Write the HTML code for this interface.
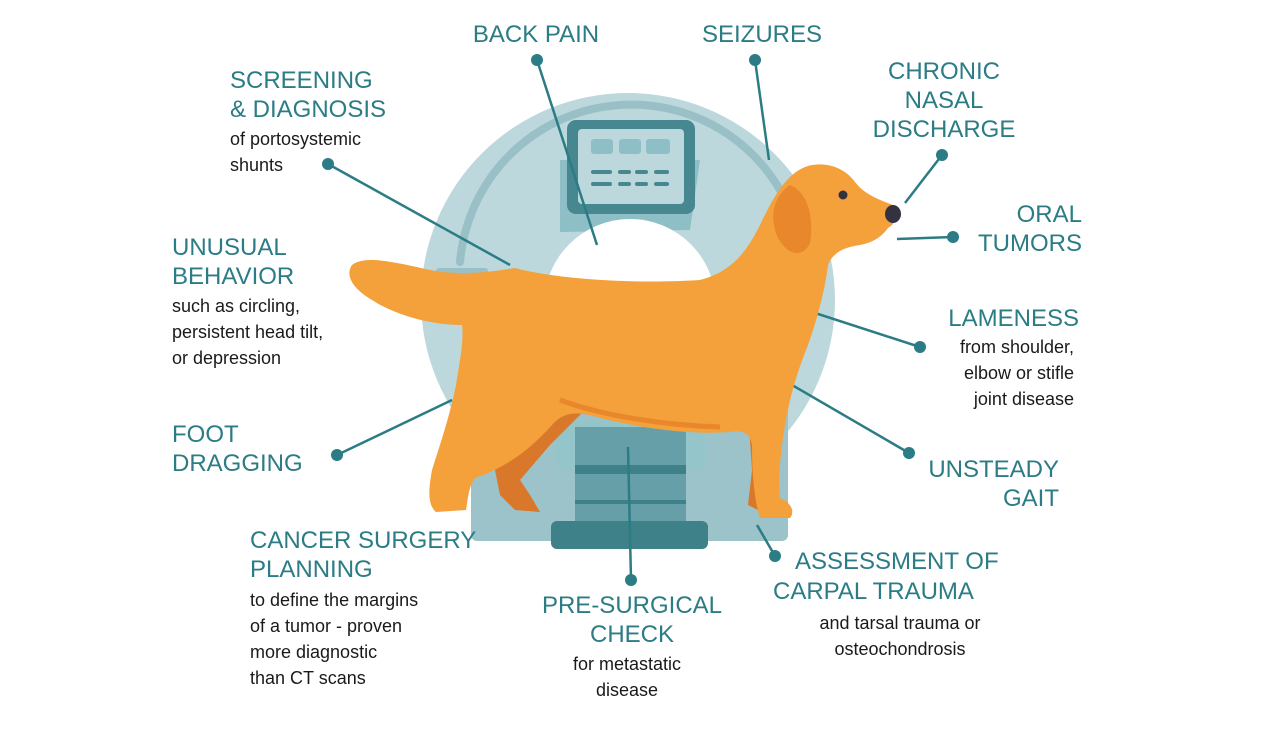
<!DOCTYPE html>
<html><head><meta charset="utf-8"><style>
body{margin:0;width:1271px;height:748px;background:#fff;position:relative;overflow:hidden;font-family:"Liberation Sans",sans-serif}
.h{position:absolute;color:#2b7c85;font-size:24px;line-height:29px;white-space:nowrap}
.b{position:absolute;color:#1a1a1a;font-size:18px;line-height:26px;white-space:nowrap}
.c{text-align:center}.r{text-align:right}
svg{position:absolute;left:0;top:0}
</style></head><body>
<svg width="1271" height="748" viewBox="0 0 1271 748">
<circle cx="628" cy="300" r="207" fill="#bcd8dc"/>
<path d="M460 262 A172 172 0 0 1 780 190" fill="none" stroke="#98c0c6" stroke-width="8" stroke-linecap="round"/>
<rect x="436" y="268" width="52" height="14" rx="3" fill="#98c0c6"/>
<rect x="471" y="380" width="317" height="161" rx="6" fill="#9cc3c9"/>
<path d="M560 160 L700 160 L690 230 L560 232 Z" fill="#8fbfc6"/>
<circle cx="630" cy="305" r="86" fill="#fff"/>
<rect x="555" y="420" width="150" height="50" rx="6" fill="#94c5cb"/>
<rect x="575" y="427" width="111" height="96" fill="#679fa8"/>
<rect x="575" y="465" width="111" height="9" fill="#3f8189"/>
<rect x="575" y="500" width="111" height="4" fill="#3f8189"/>
<rect x="551" y="521" width="157" height="28" rx="6" fill="#3f8189"/>
<rect x="567" y="120" width="128" height="94" rx="9" fill="#478790"/>
<rect x="578" y="129" width="106" height="75" rx="4" fill="#bcd8dc"/>
<rect x="591" y="139" width="22" height="15" rx="3" fill="#8fbfc6"/><rect x="619" y="139" width="22" height="15" rx="3" fill="#8fbfc6"/><rect x="646" y="139" width="24" height="15" rx="3" fill="#8fbfc6"/>
<g stroke="#478790" stroke-width="4" stroke-linecap="round"><line x1="593" y1="172" x2="610" y2="172"/><line x1="620" y1="172" x2="629" y2="172"/><line x1="637" y1="172" x2="646" y2="172"/><line x1="656" y1="172" x2="667" y2="172"/><line x1="593" y1="184" x2="610" y2="184"/><line x1="620" y1="184" x2="629" y2="184"/><line x1="637" y1="184" x2="646" y2="184"/><line x1="656" y1="184" x2="667" y2="184"/></g>
<g stroke="#2b7c85" stroke-width="2.5" fill="none">
<line x1="537" y1="60" x2="597" y2="245"/><line x1="755" y1="60" x2="769" y2="160"/>
<line x1="942" y1="155" x2="905" y2="203"/><line x1="953" y1="237" x2="897" y2="239"/>
<line x1="920" y1="347" x2="812" y2="312"/><line x1="909" y1="453" x2="780" y2="378"/>
<line x1="775" y1="556" x2="757" y2="525"/><line x1="631" y1="580" x2="628" y2="447"/>
<line x1="337" y1="455" x2="452" y2="400"/><line x1="328" y1="164" x2="510" y2="265"/>
</g>
<g fill="#2b7c85"><circle cx="537" cy="60" r="6"/><circle cx="755" cy="60" r="6"/><circle cx="942" cy="155" r="6"/><circle cx="953" cy="237" r="6"/><circle cx="920" cy="347" r="6"/><circle cx="909" cy="453" r="6"/><circle cx="775" cy="556" r="6"/><circle cx="631" cy="580" r="6"/><circle cx="337" cy="455" r="6"/><circle cx="328" cy="164" r="6"/></g>
<!-- dog back legs (dark) -->
<path d="M565 395 L530 430 L495 470 L500 495 L515 510 L540 512 L530 495 L520 480 L550 445 L585 410 Z" fill="#d9772a"/>
<path d="M748 410 L752 470 L748 505 L770 516 L785 510 L770 495 L772 440 L775 410 Z" fill="#d9772a"/>
<!-- dog body -->
<path d="M352 265 C365 255 395 262 430 270 C460 276 490 272 515 268 C560 280 640 284 700 280 C730 272 745 255 760 225 C772 200 785 175 805 167 C825 160 845 168 855 182 C865 195 880 200 893 205 C900 210 898 222 888 228 C882 236 875 242 860 245 C845 247 833 252 828 265 C825 290 817 320 808 345 C798 370 790 395 785 425 C780 455 778 480 780 498 C792 503 795 512 790 518 L760 518 C754 500 752 470 752 445 C750 432 742 430 730 432 C690 435 640 428 600 418 C580 412 565 410 552 425 C530 450 505 468 475 478 C468 488 468 500 466 510 L436 512 C428 505 428 492 432 470 C440 445 450 415 456 385 C460 360 464 340 462 325 C430 325 395 315 372 300 C352 288 345 275 352 265 Z" fill="#f4a03b"/>
<path d="M790 185 C775 195 768 215 778 238 C788 256 803 258 810 243 C814 218 808 192 790 185 Z" fill="#e8872b"/>
<path d="M560 400 C600 415 660 425 720 427" stroke="#e8872b" stroke-width="5" fill="none"/>
<circle cx="843" cy="195" r="4.5" fill="#333340"/>
<ellipse cx="893" cy="214" rx="8" ry="9" fill="#333340"/>
</svg>
<div class="h c" style="left:436px;top:20px;width:200px">BACK PAIN</div>
<div class="h c" style="left:662px;top:20px;width:200px">SEIZURES</div>
<div class="h c" style="left:844px;top:57px;width:200px">CHRONIC<br>NASAL<br>DISCHARGE</div>
<div class="h r" style="left:882px;top:200px;width:200px">ORAL<br>TUMORS</div>
<div class="h r" style="left:879px;top:304px;width:200px">LAMENESS</div>
<div class="b r" style="left:874px;top:334px;width:200px">from shoulder,<br>elbow or stifle<br>joint disease</div>
<div class="h r" style="left:859px;top:455px;width:200px">UNSTEADY<br>GAIT</div>
<div class="h" style="left:795px;top:547px">ASSESSMENT OF</div>
<div class="h" style="left:773px;top:577px">CARPAL TRAUMA</div>
<div class="b c" style="left:800px;top:610px;width:200px">and tarsal trauma or<br>osteochondrosis</div>
<div class="h c" style="left:532px;top:591px;width:200px">PRE-SURGICAL<br>CHECK</div>
<div class="b c" style="left:527px;top:651px;width:200px">for metastatic<br>disease</div>
<div class="h" style="left:250px;top:526px">CANCER SURGERY<br>PLANNING</div>
<div class="b" style="left:250px;top:587px">to define the margins<br>of a tumor - proven<br>more diagnostic<br>than CT scans</div>
<div class="h" style="left:172px;top:420px">FOOT<br>DRAGGING</div>
<div class="h" style="left:172px;top:233px">UNUSUAL<br>BEHAVIOR</div>
<div class="b" style="left:172px;top:293px">such as circling,<br>persistent head tilt,<br>or depression</div>
<div class="h" style="left:230px;top:66px">SCREENING<br>&amp; DIAGNOSIS</div>
<div class="b" style="left:230px;top:126px">of portosystemic<br>shunts</div>
</body></html>
